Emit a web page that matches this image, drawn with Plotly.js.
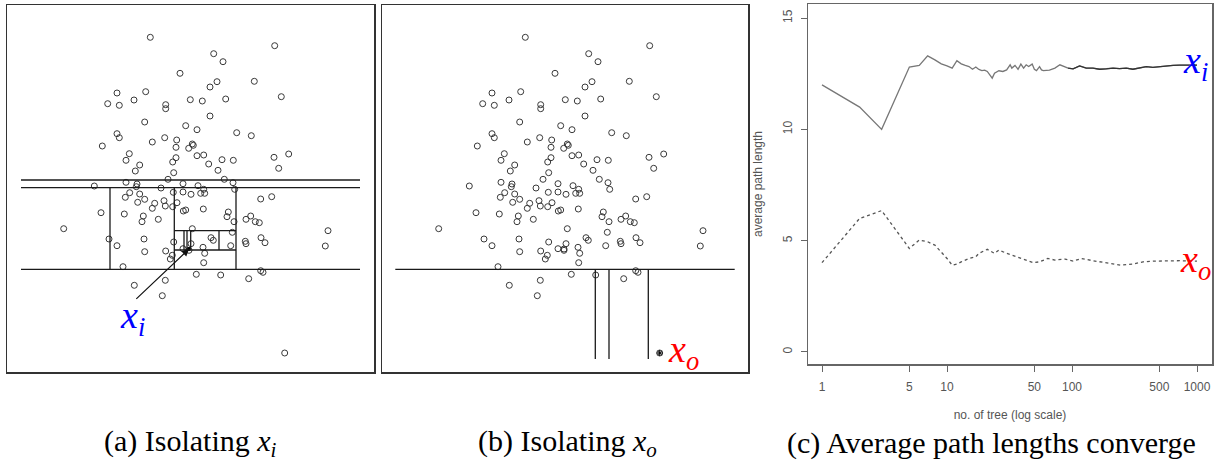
<!DOCTYPE html>
<html>
<head>
<meta charset="utf-8">
<script src="https://cdn.plot.ly/plotly-3.0.1.min.js"></script>
<style>html,body{margin:0;padding:0;background:#fff;}#chart{width:1221px;height:466px;}</style>
</head>
<body>
<div id="chart"></div>
<script>
// ---- Data points (shared by panels a and b), in plot units ----
const ptX = [143.3,267.7,206.7,216,173,247.3,210,203,110,138.7,274.3,100.7,112.3,127,158.7,158.7,183.3,195.3,218.7,203,
137.7,178.7,190,229.7,244.3,110,112.3,157.7,169.7,145.3,95.3,169,185.3,186.3,181.7,122.3,119,190,196.7,215,
226.3,267,281.7,271.7,169,165.7,132.7,128.3,201.7,211,166.7,161,217.3,226,176,119,130,87.3,191,129.3,
154,196.7,227.7,122.7,118.3,132.7,137.7,130.7,166.3,176,184,193.7,197.7,147.7,145.3,157,158.3,165.7,170,176.3,
178.7,196.3,253.7,264.7,94,117.3,136.3,135,151.3,221.3,220,227,239,243.7,248.3,252.3,56.7,321,185.3,225.3,
102,110,137,137.7,166.7,184,176,182,158.7,165.3,163.3,196,197.7,204,206.3,223.7,238.3,239,254,258,
318.3,196.7,116,189.3,213.7,241.7,253.7,256,127.3,158.3,155.3];
const ptY = [334.7,326.3,318.3,310.3,298.7,290.7,290.3,285,279,280.3,275.3,268.3,266.7,272,267.3,263.3,272.3,271,273,256,
250,246.3,242.3,239.3,236.3,238.3,234.3,234.3,232,230,226,224.7,228,226.7,223.7,218.3,211.7,216.3,217,212.3,
211.7,214.7,218,203.7,214.3,210,207,201,208,201.7,199.3,192.7,192.7,189.3,188.3,189.7,188,186,186.3,185.3,
184,182.7,182.7,179.3,174.7,178,172.7,169.7,179.7,180,177.7,178.7,178.7,168.7,163.7,171.3,166,165.3,169.3,161,
162,163,173,175.3,159.3,158,156,150.3,152.7,160,155.3,150.3,152.7,156,150.3,149.3,143.3,141.3,143.3,139.7,
133,126.3,133,120.3,130,128.3,123.3,121.7,121,116.7,113,124.7,118.7,134.3,131.7,126.3,130.7,128.3,134.3,129.3,
126,109.3,105.3,97.7,97,93.3,101.3,99.7,86.7,91.7,76.3];
const xi = [182, 123];      // the inlier x_i
const xo = [277.7, 19];     // the outlier x_o

// ---- Partition segments [x0, y0, x1, y1] ----
const splitsA = [
  [14,192,353,192],[14,184.3,353,184.3],[14,102.7,353,102.7],
  [103,102.7,103,184.3],[167.3,102.7,167.3,184.3],[229,102.7,229,184.3],
  [167.3,141.3,229,141.3],[167.3,122,229,122],[212,122,212,141.3],
  [177,122,177,141.3],[180,122,180,141.3],[183.7,124,183.7,141.3]
];
const splitsB = [
  [13.3,102.7,352.7,102.7],[213.3,13,213.3,102.7],[227,13,227,102.7],[266.3,13,266.3,102.7]
];
const arrowTail = [126.3, 70.3];

// ---- Panel c: average path length vs number of trees ----
const treesI = [1,2,3,4,5,6,7,8,9,10,11,12,13,14,15,16,17,18,19,20,21,22,23,24,26,28,30,32,33,35,37,39,41,43,45,48,50,52,55,57,59,66,73,80,85,93,102,115,130,147,166,188,213,240,272,307,348,393,444,503,568,643,727,822,1000];
const pathI  = [12.0,11.0,10.0,11.56,12.8,12.87,13.3,13.12,12.94,12.85,12.75,13.08,12.94,12.87,12.82,12.7,12.8,12.69,12.64,12.66,12.6,12.45,12.3,12.52,12.63,12.6,12.67,12.9,12.75,12.87,12.7,12.93,12.75,12.9,12.82,12.93,12.7,12.64,12.82,12.67,12.64,12.66,12.75,12.9,12.85,12.75,12.72,12.85,12.75,12.75,12.7,12.72,12.75,12.73,12.75,12.7,12.75,12.82,12.78,12.82,12.85,12.87,12.88,12.88,12.88];
const treesO = [1,2,3,4,5,6,7,8,9,10,11,12,13,15,17,18,21,24,26,30,36,43,49,55,64,73,88,102,119,147,188,246,307,370,444,568,727,1000];
const pathO  = [4.01,6.0,6.35,5.4,4.65,5.03,4.95,4.8,4.5,4.2,3.9,3.95,4.05,4.2,4.28,4.43,4.61,4.43,4.58,4.43,4.28,4.13,4.01,4.05,4.2,4.13,4.17,4.08,4.2,4.1,4.0,3.9,3.95,4.05,4.08,4.1,4.1,4.08];
const xTicks = [1,5,10,50,100,500,1000];
const yTicks = [0,5,10,15];

// ---- helpers ----
function segTrace(segs, xa, ya) {
  const x = [], y = [];
  segs.forEach(s => { x.push(s[0], s[2], null); y.push(s[1], s[3], null); });
  return {x, y, xaxis: xa, yaxis: ya, mode: 'lines', line: {color: '#1a1a1a', width: 1.3}, hoverinfo: 'skip', showlegend: false};
}
function ptsTrace(xa, ya) {
  return {x: ptX, y: ptY, xaxis: xa, yaxis: ya, mode: 'markers',
    marker: {symbol: 'circle-open', size: 6, color: '#3a3a3a', line: {width: 1, color: '#3a3a3a'}},
    hoverinfo: 'skip', showlegend: false};
}

const W = 1221, H = 466;
const px = v => v / W, py = v => 1 - v / H;

const traces = [
  ptsTrace('x', 'y'),
  {x: [xo[0]], y: [xo[1]], xaxis: 'x', yaxis: 'y', mode: 'markers', marker: {symbol: 'circle-open', size: 6, color: '#3a3a3a'}, showlegend: false},
  {x: [xi[0]], y: [xi[1]], xaxis: 'x', yaxis: 'y', mode: 'markers', marker: {symbol: 'circle', size: 4, color: '#000'}, showlegend: false},
  segTrace(splitsA, 'x', 'y'),
  ptsTrace('x2', 'y2'),
  {x: [xi[0]], y: [xi[1]], xaxis: 'x2', yaxis: 'y2', mode: 'markers', marker: {symbol: 'circle-open', size: 6, color: '#3a3a3a'}, showlegend: false},
  {x: [xo[0]], y: [xo[1]], xaxis: 'x2', yaxis: 'y2', mode: 'markers', marker: {symbol: 'circle-open', size: 6, color: '#3a3a3a'}, showlegend: false},
  {x: [xo[0]], y: [xo[1]], xaxis: 'x2', yaxis: 'y2', mode: 'markers', marker: {symbol: 'asterisk-open', size: 5, color: '#000', line: {width: 1, color: '#000'}}, showlegend: false},
  segTrace(splitsB, 'x2', 'y2'),
  {x: treesI, y: pathI, xaxis: 'x3', yaxis: 'y3', mode: 'lines', line: {color: '#777', width: 1.3}, showlegend: false},
  {x: treesI.filter(n => n >= 90), y: pathI.filter((v, i) => treesI[i] >= 90), xaxis: 'x3', yaxis: 'y3', mode: 'lines', line: {color: '#333', width: 1.3}, showlegend: false},
  {x: treesO, y: pathO, xaxis: 'x3', yaxis: 'y3', mode: 'lines', line: {color: '#555', width: 1.3, dash: 'dot'}, showlegend: false}
];

const frameAxis = (dom, range, anchor) => ({domain: dom, range: range, anchor: anchor, showgrid: false, zeroline: false,
  showticklabels: false, ticks: '', showline: true, mirror: true, linecolor: '#333', linewidth: 1.5, fixedrange: true});

const tickFont = {family: 'Liberation Sans, Arial, sans-serif', size: 12, color: '#555'};
const ann = [];
function mathLabel(x, y, sym, sub, color) {
  ann.push({xref: 'paper', yref: 'paper', x: px(x), y: py(y), xanchor: 'center', yanchor: 'middle', showarrow: false,
    text: '<i>' + sym + '<sub>' + sub + '</sub></i>', font: {family: 'Liberation Serif, Times New Roman, serif', size: 38, color: color}});
}
mathLabel(132, 318, 'x', 'i', '#0000ff');
mathLabel(683, 352, 'x', 'o', '#ff0000');
mathLabel(1195, 63, 'x', 'i', '#0000ff');
mathLabel(1195, 262, 'x', 'o', '#ff0000');
// arrow pointing to x_i
ann.push({xref: 'x', yref: 'y', axref: 'x', ayref: 'y', x: xi[0], y: xi[1], ax: arrowTail[0], ay: arrowTail[1],
  showarrow: true, arrowhead: 2, arrowsize: 1.2, arrowwidth: 1.2, arrowcolor: '#111', text: ' '});
// captions
const capFont = {family: 'Liberation Serif, Times New Roman, serif', size: 30, color: '#000'};
[[190, '(a) Isolating <i>x<sub>i</sub></i>'], [567, '(b) Isolating <i>x<sub>o</sub></i>'], [992, '(c) Average path lengths converge']].forEach(c => {
  ann.push({xref: 'paper', yref: 'paper', x: px(c[0]), y: py(443), xanchor: 'center', yanchor: 'middle', showarrow: false, text: c[1], font: capFont});
});

const layout = {
  width: W, height: H, margin: {l: 0, r: 0, t: 0, b: 0}, paper_bgcolor: '#fff', plot_bgcolor: '#fff', showlegend: false,
  xaxis: frameAxis([px(7), px(374)], [0, 367], 'y'),
  yaxis: frameAxis([py(372), py(5)], [0, 367], 'x'),
  xaxis2: frameAxis([px(382), px(748)], [0, 366], 'y2'),
  yaxis2: frameAxis([py(372), py(5)], [0, 367], 'x2'),
  xaxis3: {domain: [px(808), px(1212)], anchor: 'y3', type: 'log', range: [-0.112, 3.12], tickvals: xTicks, ticktext: xTicks.map(String),
    ticks: 'outside', ticklen: 6, tickcolor: '#666', tickwidth: 1, showgrid: false, zeroline: false, showline: true, mirror: true,
    linecolor: '#666', linewidth: 1.5, tickfont: tickFont, ticklabelstandoff: 5,
    title: {text: 'no. of tree (log scale)', font: tickFont, standoff: 17}},
  yaxis3: {domain: [py(364), py(4)], anchor: 'x3', range: [-0.54, 15.63], tickvals: yTicks, ticktext: yTicks.map(String), tickangle: -90,
    ticks: 'outside', ticklen: 6, tickcolor: '#666', tickwidth: 1, showgrid: false, zeroline: false, showline: true, mirror: true,
    linecolor: '#666', linewidth: 1.5, tickfont: tickFont, ticklabelstandoff: 4,
    title: {text: 'average path length', font: tickFont, standoff: 15}},
  annotations: ann
};

Plotly.newPlot('chart', traces, layout, {staticPlot: true, displayModeBar: false});
</script>
</body>
</html>
